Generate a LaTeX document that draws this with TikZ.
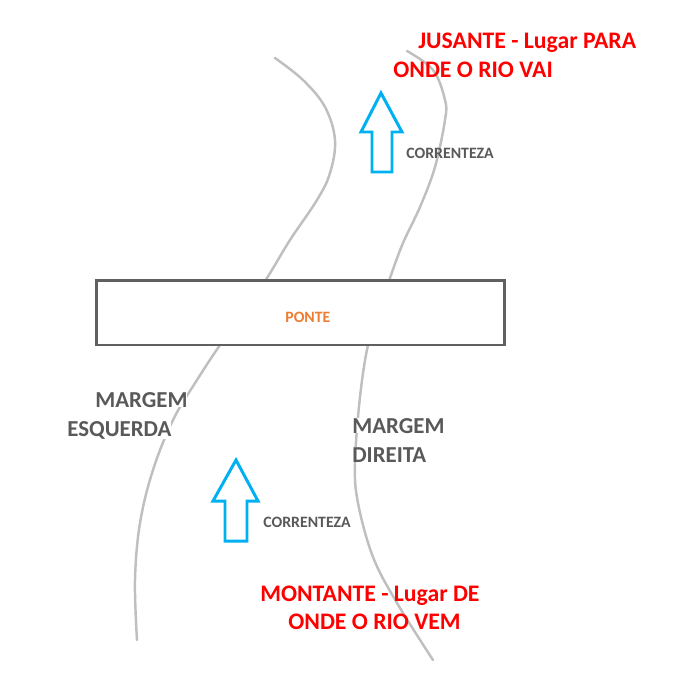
\documentclass[tikz,border=0pt]{standalone}
\usepackage{fontspec}
\setmainfont{Carlito}
\definecolor{rio}{HTML}{BFBFBF}
\definecolor{borda}{HTML}{606060}
\definecolor{cinza}{HTML}{595959}
\definecolor{laranja}{HTML}{ED7D31}
\definecolor{azul}{HTML}{00B0F0}
\definecolor{vermelho}{HTML}{FF0000}
\tikzset{
  margemline/.style={draw=rio, line width=1.4pt, line cap=round},
  pontebox/.style={draw=borda, line width=1.7pt, fill=white, minimum width=8.18cm, minimum height=1.3cm, inner sep=0pt},
  setabox/.style={draw=azul, line width=1.7pt, line join=miter},
  redtxt/.style={text=vermelho, font=\bfseries\fontsize{13.5}{15}\selectfont, inner sep=0pt, anchor=base west},
  graytxt/.style={text=cinza, font=\bfseries\fontsize{13}{15}\selectfont, inner sep=0pt, anchor=base west, fill=white},
  smalltxt/.style={text=cinza, font=\bfseries\fontsize{9}{11}\selectfont, inner sep=0pt, anchor=base west},
  pontetxt/.style={text=laranja, font=\bfseries\fontsize{9}{11}\selectfont, inner sep=0pt, anchor=base west}
}
\begin{document}
\begin{tikzpicture}[x=0.02cm, y=-0.02cm]
\useasboundingbox (0,0) rectangle (700,700);
% river banks
\draw[margemline] plot[smooth, tension=0.6] coordinates {(275,58) (303,80) (325,107) (335,140) (330,173) (317,200) (290,240) (267,278) (244,312) (220,345) (197,380) (173,420) (153,470) (140,523) (135,580) (137,640)};
\draw[margemline] plot[smooth, tension=0.6] coordinates {(407,51) (433,70) (445,100) (445,120) (435,167) (420,207) (403,243) (390,278) (379,312) (368,345) (360,397) (355,463) (358,503) (373,557) (397,603) (433,660)};
% bridge
\node[pontebox] (ponte) at (300.5,312.5) {};
\node[pontetxt] (pontelbl) at (285,322) {PONTE};
% arrows
\draw[setabox] (381,93) -- (402,132) -- (392,132) -- (392,172) -- (372,172) -- (372,132) -- (361,132) -- cycle;
\draw[setabox] (236,460) -- (258,501) -- (247,501) -- (247,541) -- (225,541) -- (225,501) -- (213,501) -- cycle;
% labels
\node[smalltxt] (cor1) at (406,158) {CORRENTEZA};
\node[smalltxt] (cor2) at (263,527) {CORRENTEZA};
\node[redtxt] (jus1) at (418,48) {JUSANTE - Lugar PARA};
\node[redtxt] (jus2) at (393,77) {ONDE O RIO VAI};
\node[redtxt] (mon1) at (260,601) {MONTANTE - Lugar DE};
\node[redtxt] (mon2) at (288,629) {ONDE O RIO VEM};
\node[graytxt] (me1) at (95,407) {MARGEM};
\node[graytxt] (me2) at (67,436) {ESQUERDA};
\node[graytxt] (md1) at (352,433) {MARGEM};
\node[graytxt] (md2) at (352,462) {DIREITA};
\end{tikzpicture}
\end{document}
